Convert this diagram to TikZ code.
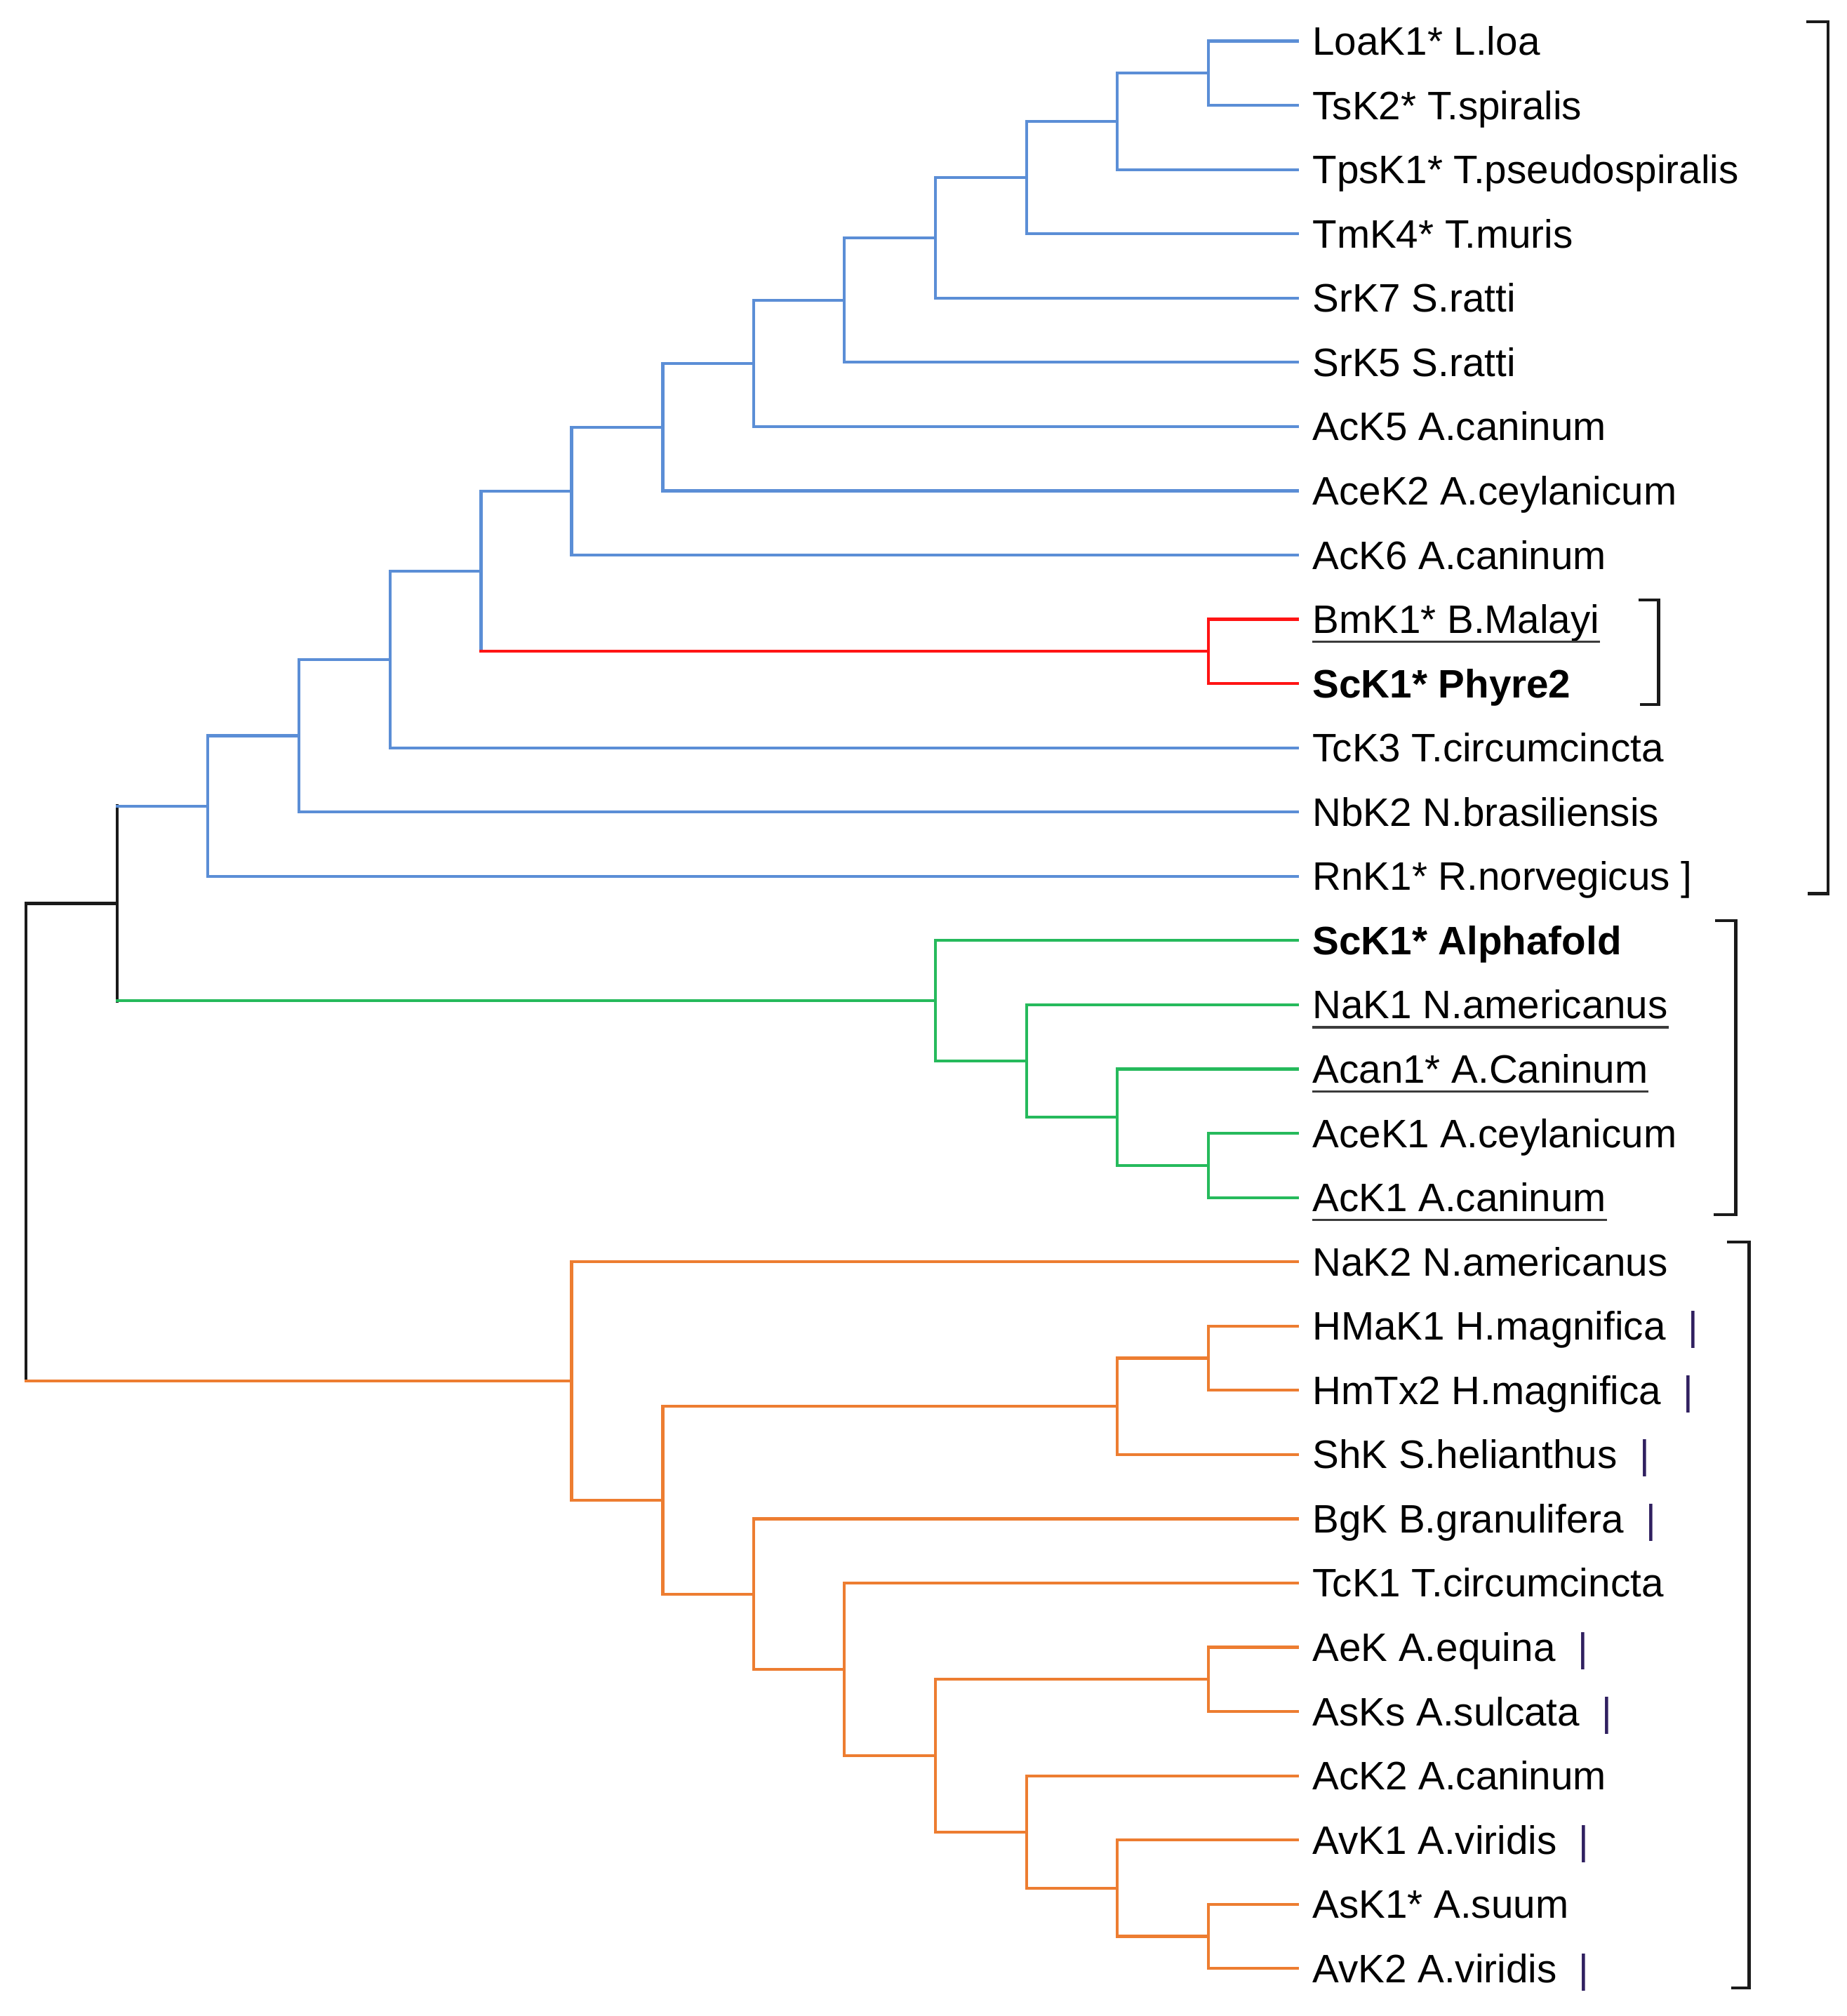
\documentclass[tikz,border=0pt]{standalone}
\usepackage{fontspec}
\setmainfont{Liberation Sans}
\definecolor{cblue}{RGB}{91,142,214}
\definecolor{cgreen}{RGB}{38,186,92}
\definecolor{corange}{RGB}{237,125,49}
\definecolor{cred}{RGB}{255,20,20}
\definecolor{cblack}{RGB}{26,26,26}
\definecolor{barc}{RGB}{48,32,96}
\newcommand{\vjoin}[4]{\draw[#1] (#2 |- #3) -- (#2 |- #4);}
\newcommand{\hjoin}[3]{\draw[#1] (#2 |- #3) -- (#3);}
\newcommand{\barmk}{\textcolor{barc}{|}}
\begin{document}
\begin{tikzpicture}[x=0.01cm,y=-0.9156cm,
  br/.style={line width=1.2pt,line cap=rect},
  bl/.style={br,draw=cblue},
  gr/.style={br,draw=cgreen},
  og/.style={br,draw=corange},
  rd/.style={br,draw=cred},
  bk/.style={br,draw=cblack,line width=1.3pt},
  lbl/.style={anchor=base west,inner sep=0pt,yshift=-0.2cm,font=\fontsize{16.1}{19}\selectfont},
  ul/.style={draw=cblack!85,line width=0.9pt},
  brk/.style={draw=cblack,line width=1.2pt}]
\useasboundingbox (0,-0.64) rectangle (2633,30.74);
% leaf ends
\foreach \i in {0,...,30}{\coordinate (l\i) at (1850,\i);}
% labels
\node[lbl] (t0) at (1871,0) {LoaK1* L.loa};
\node[lbl] (t1) at (1871,1) {TsK2* T.spiralis};
\node[lbl] (t2) at (1871,2) {TpsK1* T.pseudospiralis};
\node[lbl] (t3) at (1871,3) {TmK4* T.muris};
\node[lbl] (t4) at (1871,4) {SrK7 S.ratti};
\node[lbl] (t5) at (1871,5) {SrK5 S.ratti};
\node[lbl] (t6) at (1871,6) {AcK5 A.caninum};
\node[lbl] (t7) at (1871,7) {AceK2 A.ceylanicum};
\node[lbl] (t8) at (1871,8) {AcK6 A.caninum};
\node[lbl] (t9) at (1871,9) {BmK1* B.Malayi};
\node[lbl] (t10) at (1871,10) {\bfseries ScK1* Phyre2};
\node[lbl] (t11) at (1871,11) {TcK3 T.circumcincta};
\node[lbl] (t12) at (1871,12) {NbK2 N.brasiliensis};
\node[lbl] (t13) at (1871,13) {RnK1* R.norvegicus ]};
\node[lbl] (t14) at (1871,14) {\bfseries ScK1* Alphafold};
\node[lbl] (t15) at (1871,15) {NaK1 N.americanus};
\node[lbl] (t16) at (1871,16) {Acan1* A.Caninum};
\node[lbl] (t17) at (1871,17) {AceK1 A.ceylanicum};
\node[lbl] (t18) at (1871,18) {AcK1 A.caninum};
\node[lbl] (t19) at (1871,19) {NaK2 N.americanus};
\node[lbl] (t20) at (1871,20) {HMaK1 H.magnifica\ \ \barmk};
\node[lbl] (t21) at (1871,21) {HmTx2 H.magnifica\ \ \barmk};
\node[lbl] (t22) at (1871,22) {ShK S.helianthus\ \ \barmk};
\node[lbl] (t23) at (1871,23) {BgK B.granulifera\ \ \barmk};
\node[lbl] (t24) at (1871,24) {TcK1 T.circumcincta};
\node[lbl] (t25) at (1871,25) {AeK A.equina\ \ \barmk};
\node[lbl] (t26) at (1871,26) {AsKs A.sulcata\ \ \barmk};
\node[lbl] (t27) at (1871,27) {AcK2 A.caninum};
\node[lbl] (t28) at (1871,28) {AvK1 A.viridis\ \ \barmk};
\node[lbl] (t29) at (1871,29) {AsK1* A.suum};
\node[lbl] (t30) at (1871,30) {AvK2 A.viridis\ \ \barmk};
% underlines
\foreach \n in {t9,t15,t16,t18}{\draw[ul] ([yshift=-0.12cm]\n.base west) -- ([yshift=-0.12cm]\n.base east);}
% internal nodes
\coordinate (A) at (1723,0.5);
\coordinate (B) at (1593,1.25);
\coordinate (C) at (1464,2.125);
\coordinate (D) at (1334,3.0625);
\coordinate (E) at (1204,4.031);
\coordinate (F) at (1075,5.016);
\coordinate (G) at (945,6.008);
\coordinate (H) at (815,7.004);
\coordinate (R) at (1723,9.5);
\coordinate (I) at (686,8.252);
\coordinate (J) at (556,9.626);
\coordinate (K) at (426,10.813);
\coordinate (L) at (296,11.906);
\coordinate (M) at (1723,17.5);
\coordinate (N) at (1593,16.75);
\coordinate (O) at (1464,15.875);
\coordinate (P) at (1334,14.938);
\coordinate (Q) at (167,13.422);
\coordinate (S1) at (1723,20.5);
\coordinate (S2) at (1593,21.25);
\coordinate (T1) at (1723,29.5);
\coordinate (T2) at (1593,28.75);
\coordinate (T3) at (1464,27.875);
\coordinate (U1) at (1723,25.5);
\coordinate (U2) at (1334,26.688);
\coordinate (V) at (1204,25.344);
\coordinate (W) at (1075,24.172);
\coordinate (X) at (945,22.711);
\coordinate (Y) at (815,20.855);
\coordinate (Z) at (37,17.139);
% blue clade
\foreach \p/\a/\b in {A/l0/l1,B/A/l2,C/B/l3,D/C/l4,E/D/l5,F/E/l6,G/F/l7,H/G/l8,J/I/l11,K/J/l12,L/K/l13}{
  \vjoin{bl}{\p}{\a}{\b}\hjoin{bl}{\p}{\a}\hjoin{bl}{\p}{\b}}
\vjoin{rd}{R}{l9}{l10}\hjoin{rd}{R}{l9}\hjoin{rd}{R}{l10}
\vjoin{bl}{I}{H}{R}\hjoin{bl}{I}{H}\hjoin{rd}{I}{R}
% green clade
\foreach \p/\a/\b in {M/l17/l18,N/l16/M,O/l15/N,P/l14/O}{
  \vjoin{gr}{\p}{\a}{\b}\hjoin{gr}{\p}{\a}\hjoin{gr}{\p}{\b}}
\vjoin{bk}{Q}{L}{P}\hjoin{bl}{Q}{L}\hjoin{gr}{Q}{P}
% orange clade
\foreach \p/\a/\b in {S1/l20/l21,S2/S1/l22,T1/l29/l30,T2/l28/T1,T3/l27/T2,U1/l25/l26,U2/U1/T3,V/l24/U2,W/l23/V,X/S2/W,Y/l19/X}{
  \vjoin{og}{\p}{\a}{\b}\hjoin{og}{\p}{\a}\hjoin{og}{\p}{\b}}
\vjoin{bk}{Z}{Q}{Y}\hjoin{bk}{Z}{Q}\hjoin{og}{Z}{Y}
% brackets
\draw[brk] (2576,-0.30) -- (2607,-0.30) -- (2607,13.27) -- (2578,13.27);
\draw[brk] (2336,8.70) -- (2365,8.70) -- (2365,10.33) -- (2338,10.33);
\draw[brk] (2446,13.69) -- (2475,13.69) -- (2475,18.27) -- (2444,18.27);
\draw[brk] (2463,18.69) -- (2494,18.69) -- (2494,30.30) -- (2469,30.30);
\end{tikzpicture}
\end{document}
